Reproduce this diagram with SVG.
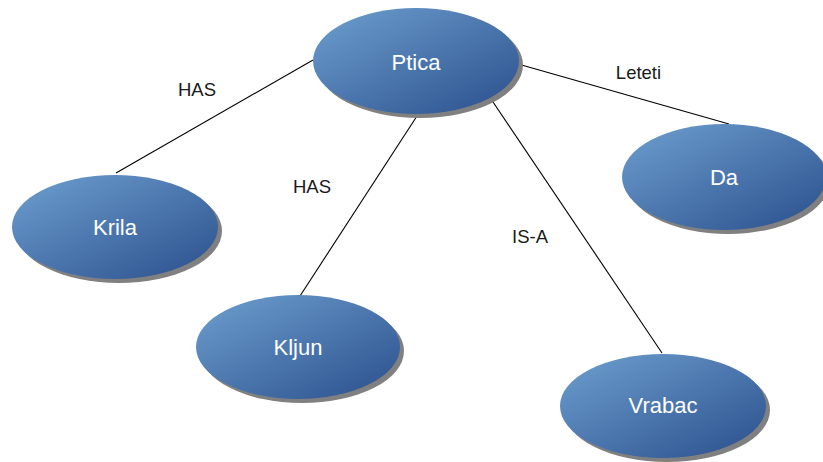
<svg xmlns="http://www.w3.org/2000/svg" width="823" height="462" viewBox="0 0 823 462">
  <defs>
    <linearGradient id="nodeFill" x1="0" y1="0" x2="1" y2="1">
      <stop offset="0" stop-color="#6e9fd0"/>
      <stop offset="1" stop-color="#2a4f8c"/>
    </linearGradient>
  </defs>
  <style>
    .shadow { fill: #808080; }
    .body { fill: url(#nodeFill); }
    .name { font-family: "Liberation Sans", Arial, sans-serif; font-size: 22px; fill: #ffffff; text-anchor: middle; }
    .edge { stroke: #000000; stroke-width: 1.1; fill: none; }
    .tag { font-family: "Liberation Sans", Arial, sans-serif; font-size: 18.5px; fill: #1a1a1a; text-anchor: middle; }
  </style>
  <rect width="823" height="462" fill="#ffffff"/>

  <g id="connectors">
    <line class="edge" x1="313" y1="60" x2="116" y2="173"/>
    <line class="edge" x1="417" y1="116" x2="300" y2="296"/>
    <line class="edge" x1="491" y1="99" x2="662" y2="353"/>
    <line class="edge" x1="518" y1="64" x2="729" y2="124"/>
    <text class="tag" x="197" y="96">HAS</text>
    <text class="tag" x="312" y="193">HAS</text>
    <text class="tag" x="530" y="243">IS-A</text>
    <text class="tag" x="638.5" y="79">Leteti</text>
  </g>

  <g id="ptica">
    <ellipse class="shadow" cx="420" cy="65" rx="103" ry="53"/>
    <ellipse class="body" cx="416" cy="61" rx="103" ry="53"/>
    <text class="name" x="416" y="70">Ptica</text>
  </g>
  <g id="krila">
    <ellipse class="shadow" cx="119" cy="231" rx="103" ry="52"/>
    <ellipse class="body" cx="115" cy="227" rx="103" ry="52"/>
    <text class="name" x="115" y="235">Krila</text>
  </g>
  <g id="kljun">
    <ellipse class="shadow" cx="302" cy="351" rx="102" ry="52"/>
    <ellipse class="body" cx="298" cy="347" rx="102" ry="52"/>
    <text class="name" x="298" y="355">Kljun</text>
  </g>
  <g id="vrabac">
    <ellipse class="shadow" cx="667" cy="410" rx="103" ry="52"/>
    <ellipse class="body" cx="663" cy="406" rx="103" ry="52"/>
    <text class="name" x="663" y="413">Vrabac</text>
  </g>
  <g id="da">
    <ellipse class="shadow" cx="728" cy="181" rx="102" ry="53"/>
    <ellipse class="body" cx="724" cy="177" rx="102" ry="53"/>
    <text class="name" x="724" y="185">Da</text>
  </g>
</svg>
